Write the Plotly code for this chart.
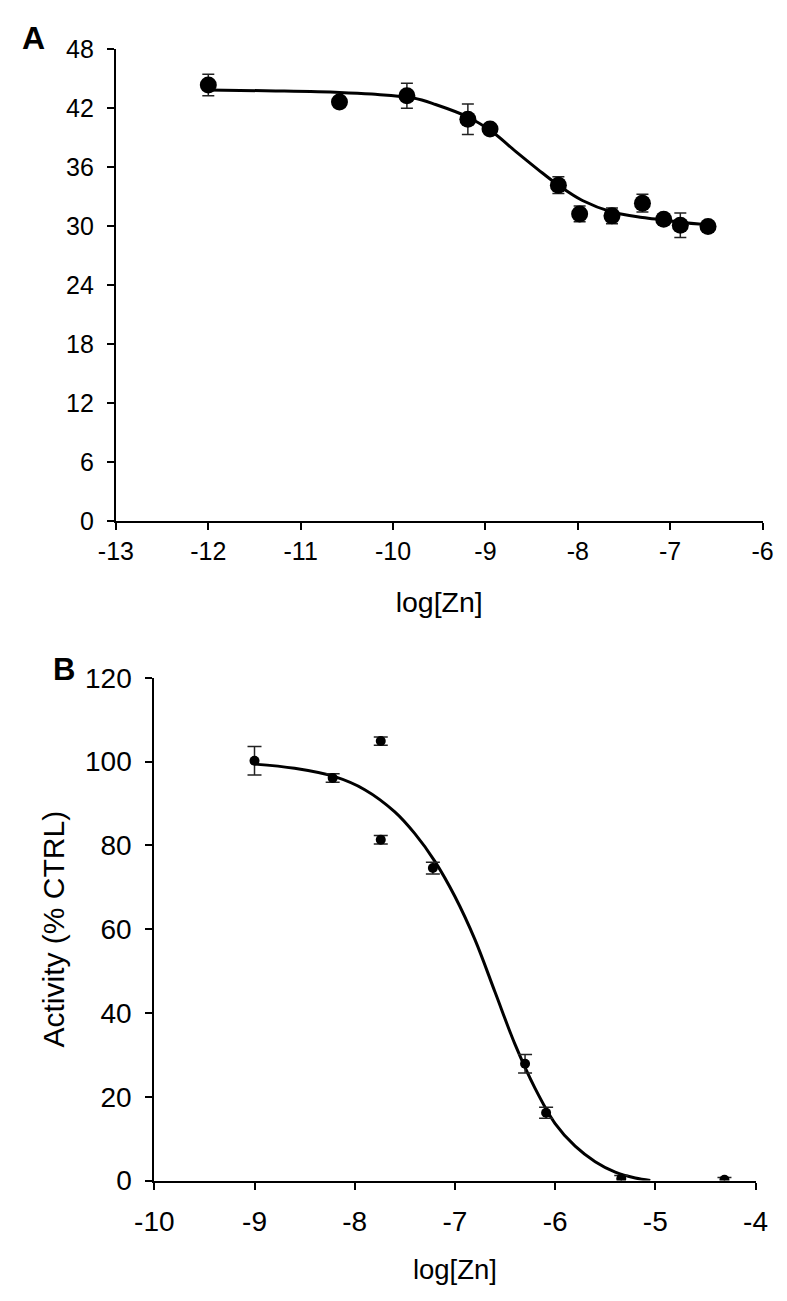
import plotly.graph_objects as go

# ---------------- Panel A data ----------------
a_x = [-12.0, -10.58, -9.85, -9.19, -8.95, -8.21, -7.98, -7.63, -7.30, -7.07, -6.89, -6.59]
a_y = [44.35, 42.63, 43.26, 40.87, 39.88, 34.16, 31.24, 31.04, 32.33, 30.69, 30.09, 29.95]
a_err = [1.1, 0.4, 1.27, 1.55, 0.5, 0.85, 0.8, 0.8, 0.9, 0.5, 1.24, 0.5]
a_fit_x = [-12.0, -11.27, -10.58, -10.23, -9.78, -9.54, -9.19, -8.92, -8.67, -8.43,
           -8.21, -7.95, -7.63, -7.30, -7.07, -6.89, -6.59]
a_fit_y = [43.85, 43.75, 43.6, 43.43, 43.03, 42.37, 41.1, 39.55, 37.57, 35.75,
           34.16, 32.6, 31.44, 30.88, 30.62, 30.39, 30.12]
a_xticks = [-13, -12, -11, -10, -9, -8, -7, -6]
a_xticktext = ["-13", "-12", "-11", "-10", "-9", "-8", "-7", "-6"]
a_yticks = [0, 6, 12, 18, 24, 30, 36, 42, 48]

# ---------------- Panel B data ----------------
b_x = [-9.0, -8.22, -7.74, -7.74, -7.22, -6.30, -6.09, -5.34, -4.31]
b_y = [100.2, 96.1, 104.9, 81.35, 74.6, 27.9, 16.2, 0.4, 0.2]
b_err = [3.4, 1.0, 1.0, 1.0, 1.4, 2.2, 1.3, 0.8, 0.5]
b_fit_x = [-9.0, -8.6, -8.2, -7.9, -7.6, -7.4, -7.2, -7.0, -6.8, -6.6,
           -6.4, -6.2, -6.0, -5.8, -5.6, -5.4, -5.2, -5.05]
b_fit_y = [99.4, 98.4, 96.4, 93.3, 88.0, 82.8, 76.2, 67.8, 57.5, 45.0,
           32.5, 22.0, 13.6, 8.2, 4.5, 2.0, 0.6, 0.0]
b_xticks = [-10, -9, -8, -7, -6, -5, -4]
b_xticktext = ["-10", "-9", "-8", "-7", "-6", "-5", "-4"]
b_yticks = [0, 20, 40, 60, 80, 100, 120]

W, H = 787, 1301
FONT = "Liberation Sans, Arial, sans-serif"


def px_x(p):
    return p / W


def px_y(p):
    return 1 - p / H


fig = go.Figure()

# Panel A
fig.add_trace(go.Scatter(x=a_fit_x, y=a_fit_y, mode="lines",
                         line=dict(color="black", width=3, shape="spline", smoothing=1.0),
                         xaxis="x", yaxis="y", showlegend=False, hoverinfo="skip"))
fig.add_trace(go.Scatter(x=a_x, y=a_y, mode="markers",
                         marker=dict(color="black", size=17),
                         error_y=dict(type="data", array=a_err, visible=True,
                                      color="#222", thickness=1.5, width=6),
                         xaxis="x", yaxis="y", showlegend=False))

# Panel B
fig.add_trace(go.Scatter(x=b_fit_x, y=b_fit_y, mode="lines",
                         line=dict(color="black", width=3, shape="spline", smoothing=1.0),
                         xaxis="x2", yaxis="y2", showlegend=False, hoverinfo="skip"))
fig.add_trace(go.Scatter(x=b_x, y=b_y, mode="markers",
                         marker=dict(color="black", size=10),
                         error_y=dict(type="data", array=b_err, visible=True,
                                      color="#222", thickness=1.5, width=7),
                         xaxis="x2", yaxis="y2", showlegend=False))

axis_common = dict(showline=True, linecolor="black", linewidth=2, ticks="outside",
                   ticklen=7, tickwidth=1.5, tickcolor="black", showgrid=False,
                   zeroline=False, mirror=False)

fig.update_layout(
    width=W, height=H,
    margin=dict(l=0, r=0, t=0, b=0),
    paper_bgcolor="white", plot_bgcolor="white",
    font=dict(family=FONT, color="black"),
    xaxis=dict(domain=[px_x(100), px_x(774)], range=[-13, -6],
               tickvals=a_xticks, ticktext=a_xticktext,
               anchor="y", tickfont=dict(size=25),
               title=dict(text="log[Zn]", font=dict(size=28.5), standoff=28),
               **axis_common),
    yaxis=dict(domain=[px_y(518.3), px_y(35)], range=[0, 48], tickvals=a_yticks,
               anchor="x", tickfont=dict(size=25), ticklabelstandoff=8,
               **axis_common),
    xaxis2=dict(domain=[px_x(140), px_x(766.7)], range=[-10, -4],
                tickvals=b_xticks, ticktext=b_xticktext,
                anchor="y2", tickfont=dict(size=28), ticklabelstandoff=8,
                title=dict(text="log[Zn]", font=dict(size=27.5), standoff=24),
                **axis_common),
    yaxis2=dict(domain=[px_y(1194), px_y(679)], range=[0, 120], tickvals=b_yticks,
                anchor="x2", tickfont=dict(size=28), ticklabelstandoff=8,
                title=dict(text="Activity (% CTRL)", font=dict(size=30), standoff=11),
                **axis_common),
    annotations=[
        dict(text="<b>A</b>", x=px_x(14), y=px_y(23.5), xref="paper", yref="paper",
             xanchor="center", yanchor="middle", showarrow=False,
             font=dict(size=32, family=FONT, color="black")),
        dict(text="<b>B</b>", x=px_x(46), y=px_y(670), xref="paper", yref="paper",
             xanchor="center", yanchor="middle", showarrow=False,
             font=dict(size=31, family=FONT, color="black")),
    ],
)

fig.write_html("out.html", config={"displayModeBar": False},
               post_script="document.body.style.margin='0px';")
